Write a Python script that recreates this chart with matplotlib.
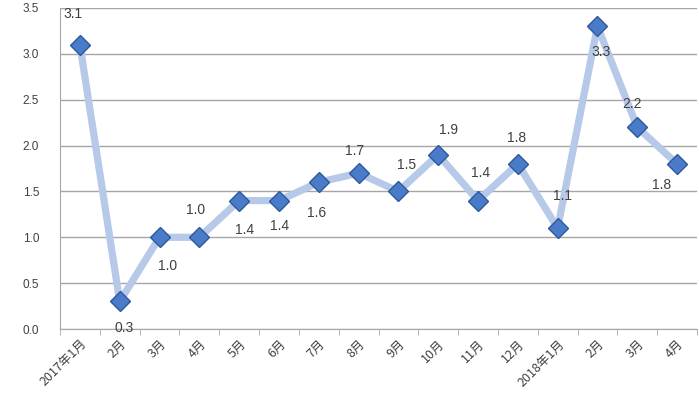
import matplotlib
matplotlib.use("Agg")
import matplotlib.pyplot as plt
import numpy as np

plt.rcParams['font.family'] = ['Noto Sans CJK SC', 'DejaVu Sans']

categories = ["2017年1月", "2月", "3月", "4月", "5月", "6月", "7月", "8月", "9月",
              "10月", "11月", "12月", "2018年1月", "2月", "3月", "4月"]
values = [3.1, 0.3, 1.0, 1.0, 1.4, 1.4, 1.6, 1.7, 1.5, 1.9, 1.4, 1.8, 1.1, 3.3, 2.2, 1.8]
y_ticks = [0.0, 0.5, 1.0, 1.5, 2.0, 2.5, 3.0, 3.5]

# label offsets in pixels (dx, dy) -- styling only
label_offsets = [(-7, 31), (4, -27), (8, -29), (-4, 27), (5, -29), (1, -25), (-2, -31),
                 (-4, 22), (8, 26), (10, 25), (3, 28), (-1, 26), (5, 32), (4, -26),
                 (-5, 23), (-16, -21)]

fig = plt.figure(figsize=(6.99, 3.94), dpi=100)
ax = fig.add_axes([60/699, (394-329)/394, (697-60)/699, (329-8)/394])

x = np.arange(len(categories))
ax.plot(x, values, color='#b7c9e8', lw=5.2, solid_capstyle='round', zorder=2)
ax.plot(x, values, linestyle='none', marker='D', markersize=10.5,
        markerfacecolor='#4a7bc8', markeredgecolor='#2e5a9c', markeredgewidth=1.0, zorder=3)

for xi, v, (dx, dy) in zip(x, values, label_offsets):
    ax.annotate(f"{v:.1f}", (xi, v), xytext=(dx, dy), textcoords='offset pixels',
                ha='center', va='center', fontsize=10, color='#404040',
                family=['Liberation Sans', 'DejaVu Sans'])

ax.set_xlim(-0.5, len(categories) - 0.5)
ax.set_ylim(0, 3.5)
ax.set_yticks(y_ticks)
ax.set_yticklabels([f"{t:.1f}" for t in y_ticks], fontsize=8.5, color='#404040',
                   family=['Liberation Sans', 'DejaVu Sans'])
ax.tick_params(axis='y', length=0, pad=15)
ax.yaxis.grid(True, color='#a6a6a6', lw=1)
ax.set_axisbelow(True)

ax.set_xticks(x)
ax.set_xticklabels(categories, rotation=45, ha='right', rotation_mode='anchor',
                   fontsize=9, color='#404040')
ax.set_xticks(np.arange(-0.5, len(categories), 1), minor=True)
ax.tick_params(axis='x', which='major', length=0, pad=6)
ax.tick_params(axis='x', which='minor', length=4, color='#a6a6a6', direction='out')

for s in ['top', 'right']:
    ax.spines[s].set_visible(False)
ax.spines['left'].set_color('#a6a6a6')
ax.spines['bottom'].set_color('#a6a6a6')

fig.savefig("out.png", dpi=100)
